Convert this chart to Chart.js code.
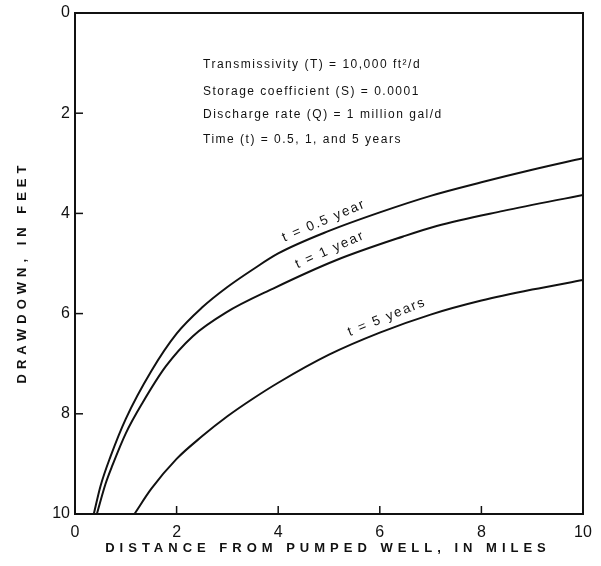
<!DOCTYPE html>
<html>
<head>
<meta charset="utf-8">
<script src="https://cdn.jsdelivr.net/npm/chart.js@4.4.0/dist/chart.umd.min.js"></script>
<style>
  html, body { margin: 0; padding: 0; background: #fff; }
  #wrap { width: 601px; height: 566px; }
</style>
</head>
<body>
<div id="wrap"><canvas id="grafico"></canvas></div>
<script>
// Valores (distancia em milhas, rebaixamento em pes)
const distancia05 = [0.37, 0.5, 0.7, 1.0, 1.5, 2.0, 2.5, 3.0, 3.5, 4.0, 5.0, 6.0, 7.0, 8.0, 9.0, 10];
const rebaixamento05 = [10, 9.45, 8.85, 8.1, 7.15, 6.4, 5.88, 5.47, 5.12, 4.8, 4.35, 3.98, 3.65, 3.38, 3.13, 2.9];

const distancia1 = [0.43, 0.6, 0.74, 1.0, 1.33, 1.79, 2.32, 2.97, 3.9, 5.15, 6.46, 7.12, 8.43, 10];
const rebaixamento1 = [10, 9.4, 9.02, 8.39, 7.78, 7.05, 6.45, 5.98, 5.5, 4.93, 4.46, 4.25, 3.95, 3.63];

const distancia5 = [1.17, 1.5, 2.0, 2.5, 3.0, 3.5, 4.0, 5.0, 6.0, 7.0, 8.0, 9.0, 10];
const rebaixamento5 = [10, 9.5, 8.9, 8.45, 8.05, 7.7, 7.38, 6.82, 6.38, 6.02, 5.74, 5.52, 5.33];

const ticksX = [0, 2, 4, 6, 8, 10];
const ticksY = [0, 2, 4, 6, 8, 10];

const textoParametros = [
    'Transmissivity (T) = 10,000 ft\u00B2/d',
    'Storage coefficient (S) = 0.0001',
    'Discharge rate (Q) = 1 million gal/d',
    'Time (t) = 0.5, 1, and 5 years'
];

// Rotulos das curvas: texto, posicao (x, y em dados), angulo
const rotulosCurvas = [
    { texto: 't = 0.5 year', x: 4.9, y: 4.15, angulo: -23 },
    { texto: 't = 1 year', x: 5.02, y: 4.73, angulo: -24 },
    { texto: 't = 5 years', x: 6.14, y: 6.07, angulo: -22 }
];

function montarPontos(xs, ys) {
    return xs.map((x, i) => ({ x: x, y: ys[i] }));
}

const fonte = '"Liberation Sans", Arial, sans-serif';

// Plugin para moldura, marcas, rotulos e textos
const pluginDesenho = {
    id: 'desenho',
    afterDraw(chart) {
        const ctx = chart.ctx;
        const area = chart.chartArea;
        const sx = chart.scales.x;
        const sy = chart.scales.y;

        ctx.save();
        ctx.strokeStyle = '#111';
        ctx.lineWidth = 2;
        ctx.strokeRect(area.left, area.top, area.right - area.left, area.bottom - area.top);

        // marcas internas
        ctx.lineWidth = 1.5;
        ticksY.forEach(v => {
            const py = sy.getPixelForValue(v);
            ctx.beginPath();
            ctx.moveTo(area.left, py);
            ctx.lineTo(area.left + 8, py);
            ctx.stroke();
        });
        ticksX.forEach(v => {
            const px = sx.getPixelForValue(v);
            ctx.beginPath();
            ctx.moveTo(px, area.bottom);
            ctx.lineTo(px, area.bottom - 8);
            ctx.stroke();
        });

        // rotulos dos eixos
        ctx.fillStyle = '#111';
        ctx.font = '16px ' + fonte;
        ctx.textAlign = 'right';
        ctx.textBaseline = 'middle';
        ticksY.forEach(v => {
            ctx.fillText(String(v), area.left - 5, sy.getPixelForValue(v));
        });
        ctx.textAlign = 'center';
        ticksX.forEach(v => {
            ctx.fillText(String(v), sx.getPixelForValue(v), area.bottom + 19);
        });

        // titulos dos eixos
        ctx.font = 'bold 13px ' + fonte;
        ctx.letterSpacing = '5px';
        ctx.textAlign = 'center';
        ctx.fillText('DISTANCE FROM PUMPED WELL, IN MILES', 328, 548);
        ctx.save();
        ctx.translate(22, 272);
        ctx.rotate(-Math.PI / 2);
        ctx.fillText('DRAWDOWN, IN FEET', 0, 0);
        ctx.restore();

        // bloco de parametros
        ctx.font = '12px ' + fonte;
        ctx.letterSpacing = '1.5px';
        ctx.textAlign = 'left';
        const linhasY = [65, 92, 115, 140];
        textoParametros.forEach((t, i) => {
            ctx.fillText(t, 203, linhasY[i]);
        });

        // rotulos das curvas
        ctx.font = '13.5px ' + fonte;
        ctx.letterSpacing = '1.8px';
        ctx.textAlign = 'center';
        rotulosCurvas.forEach(r => {
            ctx.save();
            ctx.translate(sx.getPixelForValue(r.x), sy.getPixelForValue(r.y));
            ctx.rotate(r.angulo * Math.PI / 180);
            ctx.fillText(r.texto, 0, 0);
            ctx.restore();
        });
        ctx.letterSpacing = '0px';
        ctx.restore();
    }
};

const estiloLinha = {
    showLine: true,
    borderColor: '#111',
    borderWidth: 2,
    pointRadius: 0,
    cubicInterpolationMode: 'monotone',
    fill: false
};

new Chart(document.getElementById('grafico'), {
    type: 'scatter',
    data: {
        datasets: [
            Object.assign({ label: 't = 0.5 year', data: montarPontos(distancia05, rebaixamento05) }, estiloLinha),
            Object.assign({ label: 't = 1 year', data: montarPontos(distancia1, rebaixamento1) }, estiloLinha),
            Object.assign({ label: 't = 5 years', data: montarPontos(distancia5, rebaixamento5) }, estiloLinha)
        ]
    },
    options: {
        responsive: true,
        maintainAspectRatio: false,
        animation: false,
        layout: { padding: { top: 13, right: 18, left: 0, bottom: 0 } },
        scales: {
            x: {
                type: 'linear',
                min: 0,
                max: 10,
                ticks: { display: false, stepSize: 2 },
                grid: { display: false },
                border: { display: false },
                afterFit(scale) { scale.height = 52; }
            },
            y: {
                type: 'linear',
                min: 0,
                max: 10,
                reverse: true,
                ticks: { display: false, stepSize: 2 },
                grid: { display: false },
                border: { display: false },
                afterFit(scale) { scale.width = 75; }
            }
        },
        plugins: {
            legend: { display: false },
            tooltip: { enabled: false }
        }
    },
    plugins: [pluginDesenho]
});
</script>
</body>
</html>
